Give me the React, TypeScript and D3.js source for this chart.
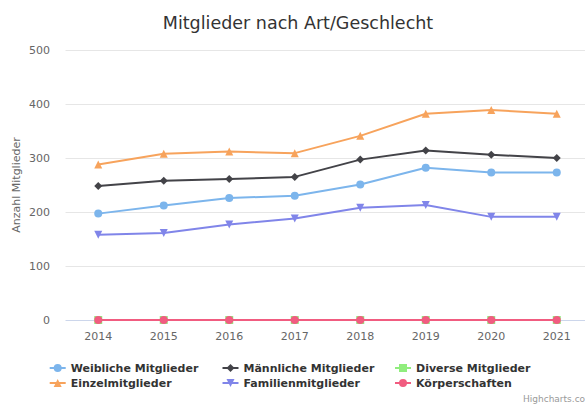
import React, { useEffect, useRef } from 'react';
import * as d3 from 'd3';

const years = ['2014', '2015', '2016', '2017', '2018', '2019', '2020', '2021'];
const yTicks = [0, 100, 200, 300, 400, 500];

const weiblich = [197, 212, 226, 230, 251, 282, 273, 273];
const maennlich = [248, 258, 261, 265, 297, 314, 306, 300];
const divers = [0, 0, 0, 0, 0, 0, 0, 0];
const einzel = [288, 308, 312, 309, 341, 382, 389, 382];
const familien = [158, 161, 177, 188, 208, 213, 191, 191];
const koerperschaften = [0, 0, 0, 0, 0, 0, 0, 0];

const seriesNames = [
  'Weibliche Mitglieder',
  'Männliche Mitglieder',
  'Diverse Mitglieder',
  'Einzelmitglieder',
  'Familienmitglieder',
  'Körperschaften',
];
const seriesColors = ['#7cb5ec', '#434348', '#90ed7d', '#f7a35c', '#8085e9', '#f15c80'];
const seriesSymbols = ['circle', 'diamond', 'square', 'triangle', 'triangle-down', 'circle'];

const FONT = '"DejaVu Sans", "Lucida Grande", Arial, sans-serif';

// marker path centred on 0,0
const markerPath = (sym: string, r: number) => {
  switch (sym) {
    case 'diamond':
      return `M0,${-r}L${r},0L0,${r}L${-r},0Z`;
    case 'square':
      return `M${-r},${-r}H${r}V${r}H${-r}Z`;
    case 'triangle':
      return `M0,${-r}L${r},${r}L${-r},${r}Z`;
    case 'triangle-down':
      return `M${-r},${-r}L${r},${-r}L0,${r}Z`;
    default:
      return d3.arc()({ innerRadius: 0, outerRadius: r, startAngle: 0, endAngle: Math.PI * 2 }) as string;
  }
};

const App: React.FC = () => {
  const svgRef = useRef<SVGSVGElement>(null);

  useEffect(() => {
    if (!svgRef.current) return;
    const svg = d3.select(svgRef.current);
    svg.selectAll('*').remove();

    const width = 585;
    const plot = { left: 65.5, right: 589.5, top: 50, bottom: 320 };
    const allSeries = [weiblich, maennlich, divers, einzel, familien, koerperschaften];

    const x = d3.scaleBand().domain(years).range([plot.left, plot.right]);
    const y = d3.scaleLinear().domain([0, 500]).range([plot.bottom, plot.top]);
    const cx = (yr: string) => (x(yr) as number) + x.bandwidth() / 2;

    svg.append('rect').attr('width', width).attr('height', 405).attr('fill', '#ffffff');

    // title
    svg.append('text')
      .attr('x', 298)
      .attr('y', 29)
      .attr('text-anchor', 'middle')
      .style('font-family', FONT)
      .style('font-size', '17.5px')
      .style('fill', '#333333')
      .text('Mitglieder nach Art/Geschlecht');

    // grid
    svg.append('g')
      .selectAll('line')
      .data(yTicks.filter(t => t > 0))
      .enter()
      .append('line')
      .attr('x1', plot.left)
      .attr('x2', plot.right)
      .attr('y1', d => Math.round(y(d)) + 0.5)
      .attr('y2', d => Math.round(y(d)) + 0.5)
      .attr('stroke', '#e6e6e6')
      .attr('stroke-width', 1);

    // x axis line
    svg.append('line')
      .attr('x1', plot.left)
      .attr('x2', plot.right)
      .attr('y1', Math.round(y(0)) + 0.5)
      .attr('y2', Math.round(y(0)) + 0.5)
      .attr('stroke', '#ccd6eb');

    // y labels
    svg.append('g')
      .selectAll('text')
      .data(yTicks)
      .enter()
      .append('text')
      .attr('x', 50)
      .attr('y', d => y(d) + 4)
      .attr('text-anchor', 'end')
      .style('font-family', FONT)
      .style('font-size', '11px')
      .style('fill', '#666666')
      .text(d => d);

    // y title
    svg.append('text')
      .attr('transform', `translate(20,${(plot.top + plot.bottom) / 2}) rotate(-90)`)
      .attr('text-anchor', 'middle')
      .style('font-family', FONT)
      .style('font-size', '11px')
      .style('fill', '#666666')
      .text('Anzahl Mitglieder');

    // x labels
    svg.append('g')
      .selectAll('text')
      .data(years)
      .enter()
      .append('text')
      .attr('x', d => cx(d))
      .attr('y', 340)
      .attr('text-anchor', 'middle')
      .style('font-family', FONT)
      .style('font-size', '11px')
      .style('fill', '#666666')
      .text(d => d);

    // series
    const line = d3.line<number>()
      .x((_, i) => cx(years[i]))
      .y(d => y(d));

    allSeries.forEach((vals, si) => {
      const g = svg.append('g');
      g.append('path')
        .attr('d', line(vals) as string)
        .attr('fill', 'none')
        .attr('stroke', seriesColors[si])
        .attr('stroke-width', 2)
        .attr('stroke-linejoin', 'round')
        .attr('stroke-linecap', 'round');
      g.selectAll('path.marker')
        .data(vals)
        .enter()
        .append('path')
        .attr('class', 'marker')
        .attr('transform', (d, i) => `translate(${cx(years[i])},${y(d)})`)
        .attr('d', markerPath(seriesSymbols[si], 4))
        .attr('fill', seriesColors[si]);
    });

    // legend
    const legend = svg.append('g');
    const colX = [49.7, 222.5, 395];
    const rowY = [368, 383];
    seriesNames.forEach((name, i) => {
      const lx = colX[i % 3];
      const ly = rowY[Math.floor(i / 3)];
      const item = legend.append('g');
      item.append('line')
        .attr('x1', lx)
        .attr('x2', lx + 16)
        .attr('y1', ly)
        .attr('y2', ly)
        .attr('stroke', seriesColors[i])
        .attr('stroke-width', 2);
      item.append('path')
        .attr('transform', `translate(${lx + 8},${ly})`)
        .attr('d', markerPath(seriesSymbols[i], 4))
        .attr('fill', seriesColors[i]);
      item.append('text')
        .attr('x', lx + 21)
        .attr('y', ly + 4)
        .style('font-family', FONT)
        .style('font-size', '11px')
        .style('font-weight', 'bold')
        .style('fill', '#333333')
        .text(name);
    });

    // credits (cut off at the right edge, as in the original)
    svg.append('text')
      .attr('x', 523)
      .attr('y', 402)
      .style('font-family', FONT)
      .style('font-size', '9px')
      .style('fill', '#999999')
      .text('Highcharts.com');
  }, []);

  return (
    <svg
      ref={svgRef}
      width={585}
      height={405}
      style={{ position: 'absolute', left: 0, top: 0, display: 'block' }}
    />
  );
};

export default App;
